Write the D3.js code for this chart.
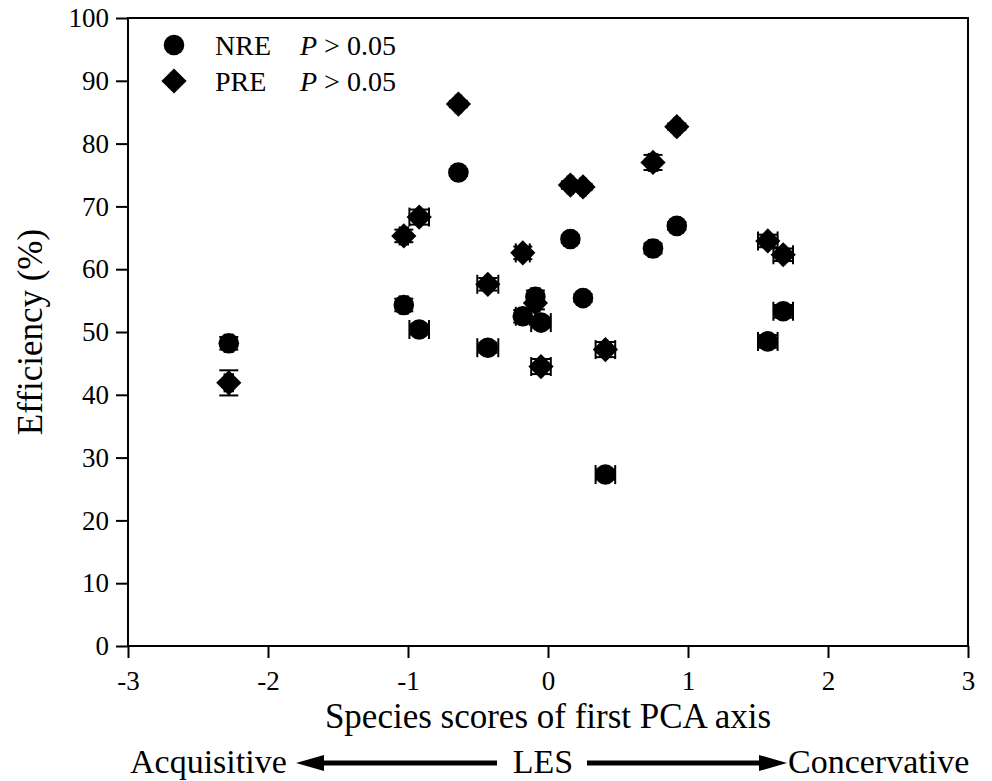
<!DOCTYPE html>
<html>
<head>
<meta charset="utf-8">
<script src="https://cdn.jsdelivr.net/npm/d3@7"></script>
<style>
  body { margin: 0; background: #fff; }
  svg text { font-family: "Liberation Serif", "Times New Roman", serif; fill: #000; }
</style>
</head>
<body>
<div id="chart"></div>
<script>
// species scores on the first PCA axis (LES) and their SE
const pcaScore = [-2.28, -1.03, -0.92, -0.64, -0.43, -0.18, -0.09, -0.05, 0.16, 0.25, 0.41, 0.75, 0.92, 1.57, 1.68];
const pcaSE    = [0.03, 0.03, 0.07, 0.02, 0.075, 0.05, 0.03, 0.07, 0.02, 0.02, 0.07, 0.03, 0.02, 0.07, 0.07];
// nitrogen resorption efficiency (%)
const nre   = [48.2, 54.3, 50.4, 75.4, 47.5, 52.5, 55.6, 51.5, 64.8, 55.4, 27.3, 63.3, 66.9, 48.5, 53.3];
const nreSE = [1.0, 1.0, 0.8, 0.5, 0.8, 1.0, 1.0, 0.8, 0.6, 0.6, 0.8, 0.8, 0.6, 1.0, 1.0];
// phosphorus resorption efficiency (%)
const pre   = [41.9, 65.3, 68.3, 86.3, 57.6, 62.6, 54.6, 44.5, 73.4, 73.1, 47.2, 77.0, 82.7, 64.5, 62.3];
const preSE = [2.0, 1.0, 1.2, 0.5, 1.0, 1.0, 1.0, 1.2, 0.6, 0.5, 1.2, 1.2, 0.5, 1.0, 1.0];

const xTicks = [-3, -2, -1, 0, 1, 2, 3];
const yTicks = [0, 10, 20, 30, 40, 50, 60, 70, 80, 90, 100];
const legendItems = [
  {name: "NRE", shape: "circle", p: "> 0.05"},
  {name: "PRE", shape: "diamond", p: "> 0.05"}
];

const serif = '"Liberation Serif", "Times New Roman", serif';
const W = 992, H = 781;
const margin = {top: 18, right: 24, bottom: 135, left: 128};

const svg = d3.select("#chart").append("svg")
  .attr("width", W)
  .attr("height", H)
  .style("font-family", serif);

const x = d3.scaleLinear().domain([-3, 3]).range([margin.left, W - margin.right]);
const y = d3.scaleLinear().domain([0, 100]).range([H - margin.bottom, margin.top]);

// axes
const xAxis = svg.append("g")
  .attr("transform", `translate(0,${y(0)})`)
  .call(d3.axisBottom(x).tickValues(xTicks).tickSize(12).tickPadding(13).tickFormat(d => String(d)));
const yAxis = svg.append("g")
  .attr("transform", `translate(${x(-3)},0)`)
  .call(d3.axisLeft(y).tickValues(yTicks).tickSize(12).tickPadding(7).tickFormat(d => String(d)));

[xAxis, yAxis].forEach(g => {
  g.attr("font-family", serif);
  g.select(".domain").remove();
  g.selectAll("line").attr("stroke", "#000").attr("stroke-width", 2);
  g.selectAll("text")
    .style("font-family", serif)
    .style("font-size", "27px")
    .attr("fill", "#000");
});

// frame
svg.append("rect")
  .attr("x", x(-3)).attr("y", y(100))
  .attr("width", x(3) - x(-3)).attr("height", y(0) - y(100))
  .attr("fill", "none").attr("stroke", "#000").attr("stroke-width", 2);

// axis titles
svg.append("text")
  .attr("x", (x(-3) + x(3)) / 2)
  .attr("y", 728)
  .attr("text-anchor", "middle")
  .style("font-size", "35px")
  .text("Species scores of first PCA axis");

svg.append("text")
  .attr("transform", `translate(42,${(y(0) + y(100)) / 2}) rotate(-90)`)
  .attr("text-anchor", "middle")
  .style("font-size", "35px")
  .text("Efficiency (%)");

// LES annotation
const lesY = 763;
const lesBase = 773;
svg.append("text").attr("x", 130).attr("y", lesBase).style("font-size", "34px").text("Acquisitive");
svg.append("text").attr("x", 543).attr("y", lesBase).attr("text-anchor", "middle").style("font-size", "34px").text("LES");
svg.append("text").attr("x", 788).attr("y", lesBase).style("font-size", "34px").text("Concervative");

svg.append("line").attr("x1", 497).attr("x2", 318).attr("y1", lesY).attr("y2", lesY)
  .attr("stroke", "#000").attr("stroke-width", 5);
svg.append("path").attr("d", `M296,${lesY} L324,${lesY - 8} L324,${lesY + 8} Z`).attr("fill", "#000");
svg.append("line").attr("x1", 587).attr("x2", 765).attr("y1", lesY).attr("y2", lesY)
  .attr("stroke", "#000").attr("stroke-width", 5);
svg.append("path").attr("d", `M787,${lesY} L759,${lesY - 8} L759,${lesY + 8} Z`).attr("fill", "#000");

// data points with error bars
const rows = pcaScore.map((s, i) => ({s, se: pcaSE[i], nre: nre[i], nreSE: nreSE[i], pre: pre[i], preSE: preSE[i]}));
const cap = 9.5;
const diamond = d3.symbol().type(d3.symbolSquare).size(318);

function drawErrors(key, seKey) {
  const g = svg.append("g").attr("stroke", "#000").attr("stroke-width", 2);
  rows.forEach(d => {
    const cx = x(d.s), cy = y(d[key]);
    const x0 = x(d.s - d.se), x1 = x(d.s + d.se);
    const y0 = y(d[key] - d[seKey]), y1 = y(d[key] + d[seKey]);
    g.append("line").attr("x1", x0).attr("x2", x1).attr("y1", cy).attr("y2", cy);
    g.append("line").attr("x1", x0).attr("x2", x0).attr("y1", cy - cap).attr("y2", cy + cap);
    g.append("line").attr("x1", x1).attr("x2", x1).attr("y1", cy - cap).attr("y2", cy + cap);
    g.append("line").attr("x1", cx).attr("x2", cx).attr("y1", y0).attr("y2", y1);
    g.append("line").attr("x1", cx - cap).attr("x2", cx + cap).attr("y1", y0).attr("y2", y0);
    g.append("line").attr("x1", cx - cap).attr("x2", cx + cap).attr("y1", y1).attr("y2", y1);
  });
}

drawErrors("nre", "nreSE");
drawErrors("pre", "preSE");

svg.append("g").selectAll("circle")
  .data(rows)
  .join("circle")
  .attr("cx", d => x(d.s))
  .attr("cy", d => y(d.nre))
  .attr("r", 10.3)
  .attr("fill", "#000");

svg.append("g").selectAll("path")
  .data(rows)
  .join("path")
  .attr("d", diamond)
  .attr("transform", d => `translate(${x(d.s)},${y(d.pre)}) rotate(45)`)
  .attr("fill", "#000");

// legend
const legend = svg.append("g");
legendItems.forEach((item, i) => {
  const ly = 45 + i * 36;
  if (item.shape === "circle") {
    legend.append("circle").attr("cx", 174).attr("cy", ly).attr("r", 10.3).attr("fill", "#000");
  } else {
    legend.append("path").attr("d", diamond).attr("transform", `translate(174,${ly}) rotate(45)`).attr("fill", "#000");
  }
  legend.append("text").attr("x", 215).attr("y", ly + 9.5).style("font-size", "28px").text(item.name);
  const t = legend.append("text").attr("x", 300).attr("y", ly + 9.5).style("font-size", "28px");
  t.append("tspan").style("font-style", "italic").text("P");
  t.append("tspan").text(" " + item.p);
});
</script>
</body>
</html>
